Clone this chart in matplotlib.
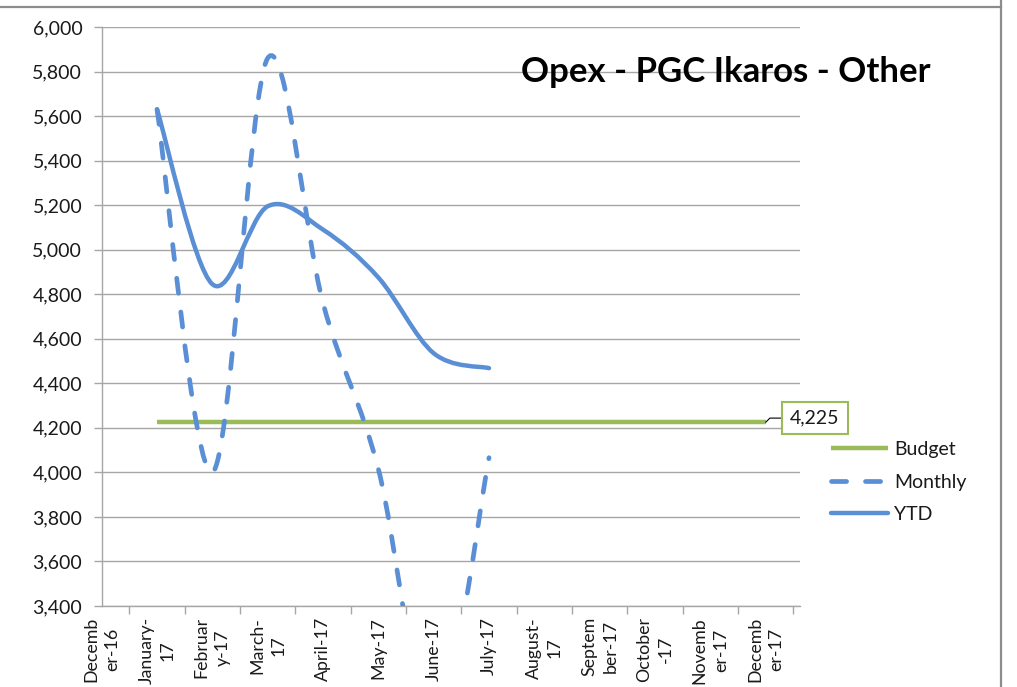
import matplotlib
matplotlib.use("Agg")
import matplotlib.pyplot as plt
from matplotlib.path import Path
from matplotlib.patches import PathPatch
from matplotlib.lines import Line2D
from matplotlib.ticker import FuncFormatter, FixedLocator
import numpy as np

plt.rcParams['font.family'] = ['Lato', 'DejaVu Sans']

# ---- data ----
categories = ["Decemb\ner-16", "January-\n17", "Februar\ny-17", "March-\n17",
              "April-17", "May-17", "June-17", "July-17", "August-\n17",
              "Septem\nber-17", "October\n-17", "Novemb\ner-17", "Decemb\ner-17"]
budget_idx = [1, 2, 3, 4, 5, 6, 7, 8, 9, 10, 11, 12]
budget = [4225, 4225, 4225, 4225, 4225, 4225, 4225, 4225, 4225, 4225, 4225, 4225]
actual_idx = [1, 2, 3, 4, 5, 6, 7]
monthly = [5630, 4000, 5860, 4760, 4015, 2850, 4066]
ytd = [5630, 4845, 5195, 5090, 4875, 4535, 4468]
title = "Opex - PGC Ikaros - Other"

BLUE = "#5A8FD6"
GREEN = "#9BBB59"
GRID = "#A6A6A6"
TXT = "#1A1A1A"

W, H = 1017, 687
fig = plt.figure(figsize=(W / 100, H / 100), dpi=100)
left, right, top, bottom = 101.7, 800, 27, 606
ax = fig.add_axes([left / W, 1 - bottom / H, (right - left) / W, (bottom - top) / H])


def smooth_path(xs, ys):
    pts = np.column_stack([xs, ys]).astype(float)
    n = len(pts)
    verts = [pts[0]]
    codes = [Path.MOVETO]
    for i in range(n - 1):
        p0 = pts[i - 1] if i > 0 else pts[i]
        p1 = pts[i]
        p2 = pts[i + 1]
        p3 = pts[i + 2] if i + 2 < n else pts[i + 1]
        c1 = p1 + (p2 - p0) / 6.0
        c2 = p2 - (p3 - p1) / 6.0
        verts += [c1, c2, p2]
        codes += [Path.CURVE4] * 3
    return Path(verts, codes)


ax.set_xlim(0.01, 12.62)
ax.set_ylim(3400, 6000)
ax.set_yticks(np.arange(3400, 6001, 200))
ax.yaxis.set_major_formatter(FuncFormatter(lambda v, p: f"{int(v):,}"))
ax.grid(axis='y', color=GRID, lw=1.0)
ax.set_axisbelow(True)

ax.set_xticks(range(len(categories)))
ax.set_xticklabels(categories, rotation=90, ha='center', va='top',
                   multialignment='center', fontsize=12.8, color=TXT, linespacing=1.4)
ax.xaxis.set_minor_locator(FixedLocator(np.arange(0.5, 12.6, 1.0)))
ax.tick_params(axis='x', which='major', length=0, pad=8)
ax.tick_params(axis='x', which='minor', length=6, color=GRID, width=1)
ax.tick_params(axis='y', length=6, color=GRID, width=1, labelsize=14, labelcolor=TXT, pad=8)

for s in ['top', 'right']:
    ax.spines[s].set_visible(False)
for s in ['left', 'bottom']:
    ax.spines[s].set_color(GRID)
    ax.spines[s].set_linewidth(1.0)

# budget
ax.plot(budget_idx, budget, color=GREEN, lw=3.2, solid_capstyle='butt', zorder=3)

# monthly dashed smooth
dash = (0, (3.2, 4.0))
pm = PathPatch(smooth_path(actual_idx, monthly), fill=False, edgecolor=BLUE, lw=3.4,
               linestyle=dash, capstyle='round', zorder=4)
ax.add_patch(pm)
# ytd smooth
py = PathPatch(smooth_path(actual_idx, ytd), fill=False, edgecolor=BLUE, lw=3.2,
               capstyle='round', joinstyle='round', zorder=4)
ax.add_patch(py)

# data label for the last budget point
ax.annotate(f"{budget[-1]:,}", xy=(budget_idx[-1], budget[-1]),
            xytext=(35.5, 3.0), textcoords='offset points',
            ha='center', va='center', fontsize=14, color=TXT,
            bbox=dict(boxstyle='square,pad=0.4', fc='white', ec=GREEN, lw=1.5),
            arrowprops=dict(arrowstyle='-', color='black', lw=0.8, shrinkA=0, shrinkB=0,
                            relpos=(0, 0.5),
                            connectionstyle='angle,angleA=180,angleB=45,rad=0'),
            annotation_clip=False, zorder=6)

# title
fig.text(725.5 / W, 1 - 72 / H, title, ha='center', va='center', fontsize=25,
         fontweight='bold', color='black')

# legend
handles = [Line2D([], [], color=GREEN, lw=3.2, solid_capstyle='butt'),
           Line2D([], [], color=BLUE, lw=3.4, linestyle=dash, dash_capstyle='round'),
           Line2D([], [], color=BLUE, lw=3.2, solid_capstyle='round')]
fig.legend(handles, ["Budget", "Monthly", "YTD"], loc='upper left',
           bbox_to_anchor=(831 / W, 1 - 441 / H), frameon=False, fontsize=14,
           handlelength=2.93, handletextpad=0.32, labelspacing=0.8,
           borderpad=0, borderaxespad=0, labelcolor=TXT)

# outer frame lines
fig.add_artist(Line2D([0, 1001 / W], [1 - 7 / H, 1 - 7 / H], transform=fig.transFigure,
                      color='#8C8C8C', lw=1.6))
fig.add_artist(Line2D([1001 / W, 1001 / W], [0, 1], transform=fig.transFigure,
                      color='#8C8C8C', lw=1.6))

fig.savefig("out.png", dpi=100)
